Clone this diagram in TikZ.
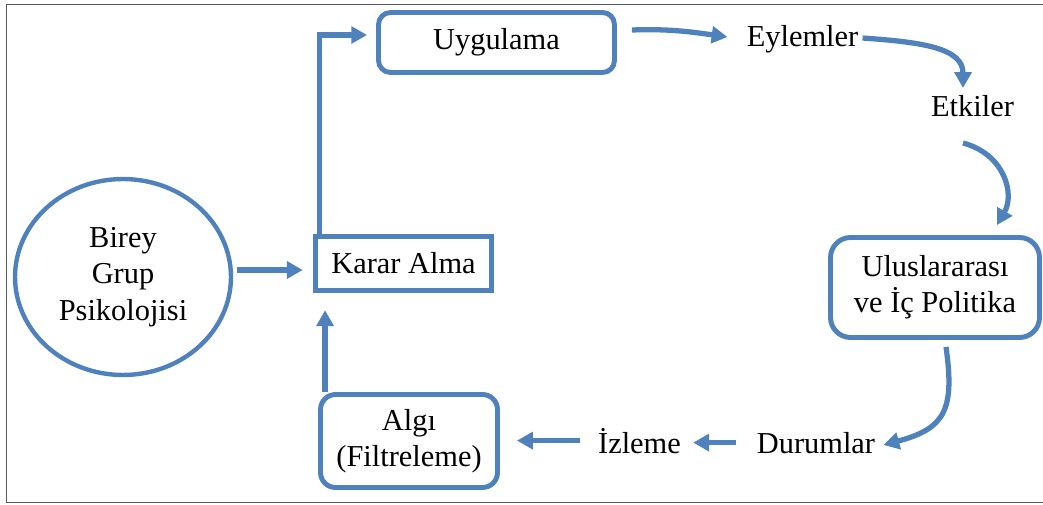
\documentclass[tikz,border=0pt]{standalone}
\usepackage{fontspec}
\setmainfont{Liberation Serif}
\usetikzlibrary{
	arrows.meta,
	shapes.geometric,
	shadows,
	calc
}
\definecolor{flowblue}{RGB}{79,129,189}
\definecolor{framegray}{RGB}{90,90,90}
\tikzset{
	flow shape/.style={
		draw=flowblue,
		line width=2.8pt,
		fill=white,
		align=center,
		inner sep=2pt,
		font=\fontsize{17.3}{20.6}\selectfont,
		drop shadow={opacity=.22,shadow xshift=.6pt,shadow yshift=-.9pt}
	},
	flow box/.style={
		flow shape,
		rounded corners=#1
	},
	flow label/.style={
		inner sep=0pt,
		anchor=base,
		font=\fontsize{17.3}{20.6}\selectfont
	},
	flow arrow/.style={
		draw=flowblue,
		line width=3pt,
		-{Triangle[length=9pt,width=9.5pt]}
	},
	frame line/.style={
		draw=framegray,
		line width=1.1pt
	}
}
\begin{document}
\begin{tikzpicture}[ %%%%%%%% KARAR DONGUSU
		x=0.02cm,
		y=0.02cm
		]
		\useasboundingbox (0,0) rectangle (1043,504);
		\draw[frame line] (1043,499.5) -| (6.5,1.5) -- (1043,1.5);

		\node[flow shape,ellipse,line width=2.5pt,minimum width=4.32cm,minimum height=3.92cm] (birey) at (123,227) {Birey\\Grup\\Psikolojisi};
		\node[flow shape,line width=3.1pt,minimum width=3.52cm,minimum height=1.08cm] (karar) at (403.5,240.5) {Karar Alma};
		\node[flow box=.24cm,minimum width=4.72cm,minimum height=1.2cm] (uyg) at (496.5,461.5) {Uygulama};
		\node[flow box=.3cm,minimum width=3.54cm,minimum height=1.86cm] (algi) at (409,63) {Algı\\(Filtreleme)};
		\node[flow box=.4cm,minimum width=4.18cm,minimum height=2cm] (ulus) at (935,216.5) {Uluslararası\\ve İç Politika};

		\node[flow label] (eyl) at (802.5,457) {Eylemler};
		\node[flow label] (etk) at (972.5,387) {Etkiler};
		\node[flow label] (dur) at (816,51) {Durumlar};
		\node[flow label] (izl) at (639.5,51) {İzleme};

		\draw[flow arrow,shorten <=.08cm,shorten >=.2cm] ([yshift=.14cm]birey.east) -- ([yshift=.14cm]birey.east -| karar.west);
		\draw[flow arrow] ([xshift=.14cm]karar.north west) |- ([shift={(-.18cm,.15cm)}]uyg.west);
		\draw[flow arrow] ([shift={(.3cm,.25cm)}]uyg.east) to[out=2,in=172] ([shift={(-.38cm,.2cm)}]eyl.base west);
		\draw[flow arrow] ([shift={(.08cm,.18cm)}]eyl.base east) .. controls +(-4:1.2cm) and +(90:.8cm) .. ([shift={(-.19cm,.58cm)}]etk.base);
		\draw[flow arrow] ([shift={(-.19cm,-.52cm)}]etk.base) .. controls +(-15:.86cm) and +(60:.72cm) .. ([shift={(1.24cm,.2cm)}]ulus.north);
		\draw[flow arrow] ([shift={(.22cm,-.14cm)}]ulus.south) to[out=-82,in=15,looseness=1.4] ([shift={(.16cm,.16cm)}]dur.base east);
		\draw[flow arrow] ([xshift=-.42cm]dur.west) -- ([xshift=.24cm]dur.west -| izl.east);
		\draw[flow arrow] ([xshift=-.36cm]izl.west) -- ([xshift=.34cm]izl.west -| algi.east);
		\draw[flow arrow,shorten >=.34cm] ([xshift=.14cm]algi.north west) -- ([xshift=.14cm]algi.north west |- karar.south);
	\end{tikzpicture}
\end{document}
